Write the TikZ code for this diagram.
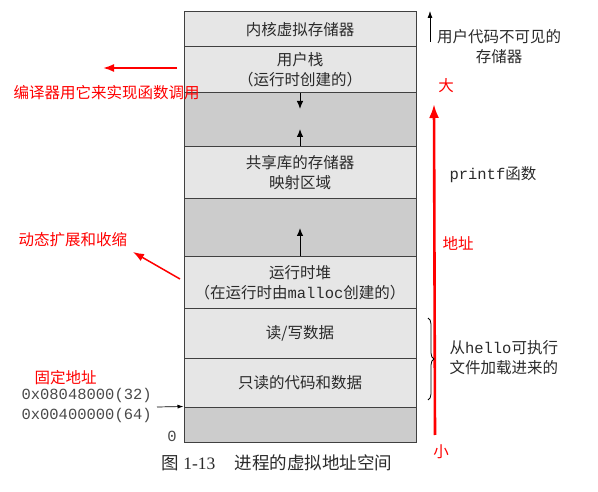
\documentclass[tikz,border=0pt]{standalone}
\usepackage{fontspec}
\setmainfont{Noto Sans CJK SC}
\setmonofont{Liberation Mono}
\newfontfamily\capnum{Liberation Serif}
\usetikzlibrary{arrows.meta,decorations.pathreplacing}
\definecolor{frame}{HTML}{404040}
\definecolor{cellfill}{HTML}{E6E6E6}
\definecolor{gapfill}{HTML}{CCCCCC}
\definecolor{ink}{HTML}{2A2A2A}
\begin{document}
\begin{tikzpicture}[
   x=1pt,y=-1pt,
   every node/.style={font=\fontsize{15.5}{20}\selectfont,text=ink},
   cell/.style={draw=frame,fill=cellfill,line width=1pt,minimum width=232pt,inner sep=0pt,align=center},
   gapcell/.style={cell,fill=gapfill},
   growarrow/.style={-{Latex[length=8pt,width=6.5pt]},line width=1pt,black},
   remark/.style={text=red},
   redarrow/.style={-{Latex[length=11pt,width=8pt]},red,line width=1.8pt}
 ]
  \useasboundingbox (0,0) rectangle (598,492);
  % address space, top to bottom
  \node[cell,minimum height=35pt] (kernel) at (300,29.5) {内核虚拟存储器};
  \node[cell,minimum height=46pt] (ustack) at (300,70) {用户栈\\（运行时创建的）};
  \node[gapcell,minimum height=54pt] (gapa) at (300,120) {};
  \node[cell,minimum height=52pt] (shlib) at (300,173) {共享库的存储器\\映射区域};
  \node[gapcell,minimum height=58pt] (gapb) at (300,228) {};
  \node[cell,minimum height=52pt] (heap) at (300,283) {运行时堆\\（在运行时由{\ttfamily malloc}创建的）};
  \node[cell,minimum height=49pt] (rwdata) at (300,333.5) {读/写数据};
  \node[cell,minimum height=49pt] (rodata) at (300,382.5) {只读的代码和数据};
  \node[gapcell,minimum height=35pt] (lowest) at (300,424.5) {};

  % growth arrows
  \coordinate (sdown) at (300,109);
  \coordinate (mup) at (300,129);
  \coordinate (hup) at (300,228);
  \draw[growarrow] (ustack.south) -- (sdown);
  \draw[growarrow] (shlib.north) -- (mup);
  \draw[growarrow] (heap.north) -- (hup);

  % left side
  \coordinate (calltail) at (177,68);
  \coordinate (callhead) at (103,68);
  \draw[redarrow] (calltail) -- (callhead);
  \node[remark,anchor=west] (calltext) at (10,93) {编译器用它来实现函数调用};
  \coordinate (heaptail) at (180,279);
  \coordinate (heaphead) at (133,252);
  \draw[redarrow,line width=1.5pt] (heaptail) -- (heaphead);
  \node[remark,anchor=west] (growtext) at (15,240) {动态扩展和收缩};
  \node[remark,anchor=west] (fixtext) at (31,378) {固定地址};
  \node[anchor=west,font=\fontsize{15.5}{20}\ttfamily,text=ink!85] (addr32) at (18,395) {0x08048000(32)};
  \node[anchor=west,font=\fontsize{15.5}{20}\ttfamily,text=ink!85] (addr64) at (18,415) {0x00400000(64)};
  \coordinate (starttail) at (157,407);
  \draw[-{Latex[length=6pt,width=4pt]},line width=0.7pt] (starttail) -- (lowest.north west);
  \node[font=\fontsize{15.5}{20}\ttfamily,text=ink!85] (zero) at (172,436) {0};

  % right side
  \coordinate (hidtail) at (430,42);
  \coordinate (hidhead) at (430,11);
  \draw[-{Latex[length=7pt,width=5pt]},line width=0.8pt] (hidtail) -- (hidhead);
  \node[align=center] (hidtext) at (499,47) {用户代码不可见的\\存储器};
  \node[remark] (big) at (446,86) {大};
  \coordinate (addrlow) at (435,435);
  \coordinate (addrhigh) at (434,104);
  \draw[redarrow,line width=2.6pt,-{Latex[length=14pt,width=10pt]}] (addrlow) -- (addrhigh);
  \node[remark] (addrtext) at (458,243) {地址};
  \node[remark] (small) at (441,452) {小};
  \node[anchor=west] (printftext) at (446,175) {{\ttfamily printf}函数};
  \coordinate (bracetop) at (428,318);
  \coordinate (bracebot) at (428,400);
  \draw[decorate,decoration={brace,amplitude=6pt},line width=0.8pt] (bracetop) -- (bracebot);
  \node[anchor=west,align=left] (hellotext) at (446,358) {从{\ttfamily hello}可执行\\文件加载进来的};

  % caption
  \node[font=\fontsize{17.5}{20}\selectfont] (caption) at (277,463) {图 {\capnum 1-13}\hspace{1.1em}进程的虚拟地址空间};
 \end{tikzpicture}
\end{document}
